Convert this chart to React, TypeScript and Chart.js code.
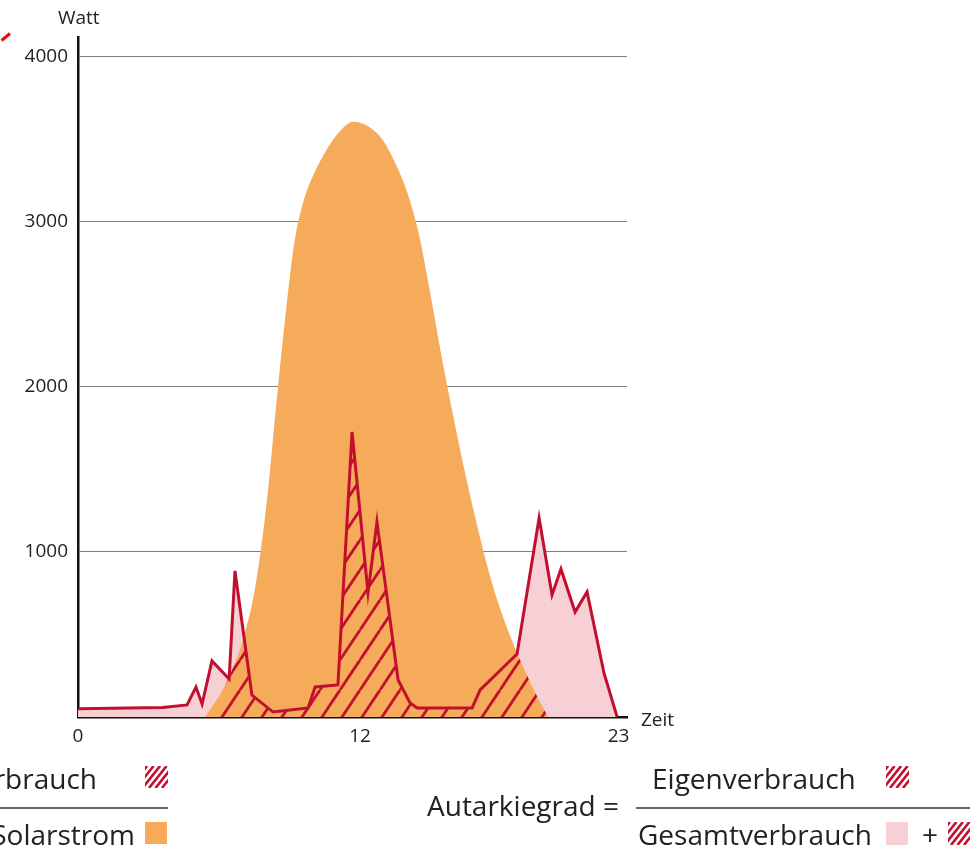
import React, { useEffect, useRef } from 'react';
import { Chart, registerables } from 'chart.js';

Chart.register(...registerables);

// Gesamtverbrauch (Watt) über die Tageszeit (Stunden)
const consumptionHours = [0, 3.6, 4.64, 5.02, 5.28, 5.7, 6.43, 6.68, 7.4, 8.3, 9.79, 10.09, 11.06, 11.66, 12.34, 12.72, 13.62, 14.13, 14.43, 16.77, 17.11, 18.68, 19.62, 20.17, 20.55, 21.15, 21.66, 22.38, 22.94];
const consumptionWatts = [50, 58, 73, 182, 79, 340, 230, 885, 133, 30, 55, 182, 194, 1727, 752, 1182, 224, 85, 55, 55, 164, 382, 1206, 739, 897, 636, 758, 267, 0];

// Solarstrom (Watt)
const solarHours = [5.4, 5.5, 6.0, 6.5, 7.0, 7.5, 8.0, 8.5, 9.0, 9.25, 9.5, 9.75, 10.0, 10.5, 11.0, 11.5, 11.75, 12.0, 12.5, 13.0, 13.5, 14.0, 14.5, 15.0, 15.5, 16.0, 16.5, 17.0, 17.5, 18.0, 18.5, 19.0, 19.5, 20.0];
const solarWatts = [0, 20, 125, 265, 460, 755, 1262, 1985, 2650, 2912, 3075, 3195, 3280, 3418, 3524, 3596, 3606, 3600, 3564, 3490, 3355, 3183, 2928, 2558, 2160, 1800, 1460, 1150, 870, 640, 450, 285, 135, 0];

const xTickValues = [0, 12, 23];
const yTickValues = [1000, 2000, 3000, 4000];

const RED = '#C30F2E';
const ORANGE = '#F5AB5A';
const PINK = '#F6D0D5';
const TEXT = '#222222';
const FONT = '"Open Sans", "Noto Sans", sans-serif';

function makeHatchPattern(ctx: CanvasRenderingContext2D) {
  const c = document.createElement('canvas');
  c.width = 20;
  c.height = 30;
  const p = c.getContext('2d')!;
  p.strokeStyle = RED;
  p.lineWidth = 2.8;
  for (const off of [-20, 0, 20]) {
    p.beginPath();
    p.moveTo(off, 30);
    p.lineTo(off + 20, 0);
    p.stroke();
  }
  return ctx.createPattern(c, 'repeat')!;
}

function hatchSwatch(ctx: CanvasRenderingContext2D, x: number, y: number, w: number, h: number) {
  ctx.save();
  ctx.beginPath();
  ctx.rect(x, y, w, h);
  ctx.clip();
  ctx.strokeStyle = RED;
  ctx.lineWidth = 2.6;
  for (let i = -h; i < w + h; i += 6.5) {
    ctx.beginPath();
    ctx.moveTo(x + i, y + h);
    ctx.lineTo(x + i + h * 0.8, y);
    ctx.stroke();
  }
  ctx.restore();
}

export default function App() {
  const ref = useRef<HTMLCanvasElement>(null);

  useEffect(() => {
    const canvas = ref.current!;
    const ctx0 = canvas.getContext('2d')!;
    const pattern = makeHatchPattern(ctx0);

    const hatchPlugin = {
      id: 'eigenHatch',
      beforeDatasetsDraw(chart: any) {
        const ctx = chart.ctx as CanvasRenderingContext2D;
        const consMeta = chart.getDatasetMeta(0);
        const solarMeta = chart.getDatasetMeta(1);
        const y0 = chart.scales.y.getPixelForValue(0);
        const line = solarMeta.dataset;
        line.updateControlPoints(chart.chartArea, 'x');
        const sp = solarMeta.data;
        ctx.save();
        ctx.beginPath();
        line.path(ctx);
        ctx.lineTo(sp[sp.length - 1].x, y0);
        ctx.lineTo(sp[0].x, y0);
        ctx.closePath();
        ctx.clip();
        const cp = consMeta.data;
        ctx.beginPath();
        ctx.moveTo(cp[0].x, y0);
        for (const p of cp) ctx.lineTo(p.x, p.y);
        ctx.lineTo(cp[cp.length - 1].x, y0);
        ctx.closePath();
        ctx.fillStyle = pattern;
        ctx.fill();
        ctx.restore();
      },
    };

    const textPlugin = {
      id: 'texts',
      afterDraw(chart: any) {
        const ctx = chart.ctx as CanvasRenderingContext2D;
        ctx.save();
        // small red mark top-left
        ctx.strokeStyle = '#E0101A';
        ctx.lineWidth = 3;
        ctx.beginPath();
        ctx.moveTo(1.5, 40.5);
        ctx.lineTo(10, 33.5);
        ctx.stroke();

        ctx.fillStyle = TEXT;
        ctx.textBaseline = 'alphabetic';
        ctx.font = `19px ${FONT}`;
        ctx.textAlign = 'left';
        ctx.fillText('Watt', 58, 24);
        ctx.fillText('Zeit', 641, 726);

        ctx.font = `28px ${FONT}`;
        // left formula (cut at the page edge)
        ctx.textAlign = 'right';
        ctx.fillText('Eigenverbrauch', 97, 789);
        ctx.fillText('Solarstrom', 135, 845);
        hatchSwatch(ctx, 145, 766, 23, 22);
        ctx.fillStyle = ORANGE;
        ctx.fillRect(145, 822, 22, 22);
        ctx.strokeStyle = '#666666';
        ctx.lineWidth = 2;
        ctx.beginPath();
        ctx.moveTo(0, 808);
        ctx.lineTo(168, 808);
        ctx.stroke();

        // right formula
        ctx.fillStyle = TEXT;
        ctx.textAlign = 'left';
        ctx.fillText('Autarkiegrad =', 427, 816);
        ctx.fillText('Eigenverbrauch', 652, 789);
        ctx.fillText('Gesamtverbrauch', 638, 845);
        ctx.fillText('+', 922, 845);
        ctx.beginPath();
        ctx.moveTo(636, 808);
        ctx.lineTo(970, 808);
        ctx.stroke();
        hatchSwatch(ctx, 886, 766, 23, 22);
        ctx.fillStyle = PINK;
        ctx.fillRect(886, 822, 22, 23);
        hatchSwatch(ctx, 948, 822, 22, 23);
        ctx.restore();
      },
    };

    const chart = new Chart(canvas, {
      type: 'line',
      data: {
        datasets: [
          {
            label: 'Gesamtverbrauch',
            data: consumptionHours.map((h, i) => ({ x: h, y: consumptionWatts[i] })),
            borderColor: RED,
            borderWidth: 3,
            borderJoinStyle: 'miter',
            backgroundColor: PINK,
            fill: 'origin',
            pointRadius: 0,
            tension: 0,
            order: 2,
          },
          {
            label: 'Solarstrom',
            data: solarHours.map((h, i) => ({ x: h, y: solarWatts[i] })),
            borderWidth: 0,
            borderColor: 'rgba(0,0,0,0)',
            backgroundColor: ORANGE,
            fill: 'origin',
            pointRadius: 0,
            cubicInterpolationMode: 'monotone',
            order: 1,
          },
        ],
      },
      options: {
        responsive: false,
        animation: false,
        devicePixelRatio: 1,
        layout: { padding: { left: 0, top: 37, right: 351, bottom: 0 } },
        plugins: {
          legend: { display: false },
          tooltip: { enabled: false },
          filler: { drawTime: 'beforeDatasetsDraw' },
        },
        scales: {
          x: {
            type: 'linear',
            min: 0,
            max: 23.36,
            grid: { display: false, drawTicks: false },
            border: { display: true, color: '#111111', width: 2.5 },
            afterBuildTicks: (scale: any) => {
              scale.ticks = xTickValues.map((v) => ({ value: v }));
            },
            afterFit: (scale: any) => {
              scale.height = 137;
            },
            ticks: {
              autoSkip: false,
              maxRotation: 0,
              padding: 8,
              color: TEXT,
              font: { family: FONT, size: 19 },
              callback: (v: any) => String(v),
            },
          },
          y: {
            type: 'linear',
            min: 0,
            max: 4120,
            afterBuildTicks: (scale: any) => {
              scale.ticks = [0, ...yTickValues].map((v) => ({ value: v }));
            },
            afterFit: (scale: any) => {
              scale.width = 78;
            },
            grid: { color: '#7f7f7f', lineWidth: 1, drawTicks: false },
            border: { display: true, color: '#111111', width: 2.5 },
            ticks: {
              padding: 10,
              color: TEXT,
              font: { family: FONT, size: 19 },
              callback: (v: any) => (v === 0 ? '' : String(v)),
            },
          },
        },
      },
      plugins: [hatchPlugin, textPlugin],
    } as any);

    return () => chart.destroy();
  }, []);

  return (
    <div style={{ position: 'absolute', left: 0, top: 0, width: 978, height: 854, background: '#ffffff' }}>
      <canvas ref={ref} width={978} height={854} style={{ display: 'block' }} />
    </div>
  );
}
